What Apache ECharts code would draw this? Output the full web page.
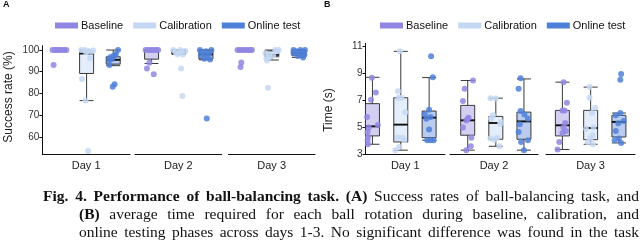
<!DOCTYPE html>
<html><head><meta charset="utf-8">
<script src="https://cdn.jsdelivr.net/npm/echarts@6/dist/echarts.min.js"></script>
<style>html,body{margin:0;padding:0;background:#fff}#c{width:640px;height:240px}</style>
</head><body><div id="c"></div>
<script>
// ---------- data ----------
const days = ['Day 1', 'Day 2', 'Day 3'];
const groups = ['Baseline', 'Calibration', 'Online test'];
const yTicksA = [60, 70, 80, 90, 100];
const yTicksB = [3, 5, 7, 9, 11];

// Panel A – success rate (%) box stats [min, Q1, median, Q3, max] per group
const boxA_day1 = [[100,100,100,100,100],[76.7,89.2,98.4,99.2,100],[92.8,93.5,95.5,96.9,100]];
const boxA_day2 = [[93.8,95.8,100,100,100],[98,98.2,98.8,99.8,100],[95.5,95.9,98,100,100]];
const boxA_day3 = [[100,100,100,100,100],[95.4,96.9,97.8,99.6,100],[96.6,97.4,98.5,100,100]];
// Panel A – individual points and their jitter (category units)
const ptsA_day1 = [
  [100,100,100,100,100,100,100,100,100,93.1],
  [100,100,99.6,99.3,99.8,99,96.2,86.6,76.8,53.5],
  [100,98.2,97.2,96.7,95.9,95.4,93.1,84.2,83.1,97.5]];
const jitA_day1 = [
  [-0.28,-0.2,-0.12,-0.05,0.02,0.1,0.17,0.24,-0.15,-0.24],
  [-0.2,-0.08,0.05,0.18,0.25,-0.02,0.13,-0.17,-0.04,0.06],
  [0.18,0.1,0,-0.11,-0.05,-0.16,-0.14,0.05,-0.02,0.06]];
const ptsA_day2 = [
  [100,100,100,100,100,100,100,94.1,91.5,88.9],
  [100,99.6,99.3,99,98.6,98.1,97.9,91.5,78.8,100],
  [100,100,99.5,98.8,98.3,97.6,96.8,96,95.6,68.5]];
const jitA_day2 = [
  [-0.22,-0.14,-0.06,0.02,0.1,0.18,0.24,-0.08,-0.17,0.08],
  [-0.2,0.24,0.1,-0.12,0.02,-0.05,0.15,0.09,0.13,0.05],
  [-0.22,0.2,0,-0.1,0.12,-0.18,0.05,-0.06,0.15,0.03]];
const ptsA_day3 = [
  [100,100,100,100,100,100,100,100,94.3,92.2],
  [100,100,99.5,98.5,98,97.5,96.6,96.2,95.2,82.6],
  [100,100,100,99.4,99,98.6,98.2,97.8,97.2,96.6]];
const jitA_day3 = [
  [-0.26,-0.18,-0.1,-0.02,0.06,0.14,0.22,0.27,-0.12,-0.15],
  [0.13,0.25,0.2,-0.23,-0.1,0.05,-0.09,-0.2,-0.17,-0.14],
  [-0.2,0.05,0.22,-0.1,0.12,-0.2,0.02,0.2,-0.05,0.15]];

// Panel B – time (s)
const boxB_day1 = [[3.74,4.36,5.07,6.76,8.72],[3.3,3.91,5.2,7.2,10.65],[4.04,4.23,5.72,6.21,8.7]];
const boxB_day2 = [[3.3,4.41,5.52,6.63,8.48],[3.59,4.11,5.32,5.81,7.17],[3.3,4.11,5.44,6.13,8.6]];
const boxB_day3 = [[3.35,4.36,5.15,6.26,8.36],[3.74,4.08,4.95,6.26,7.99],[3.84,4.28,5.4,5.89,6.06]];
const ptsB_day1 = [
  [8.68,7.59,7.05,5.76,5.17,4.98,4.65,4.28,4.04,3.74],
  [10.65,7.69,7.2,7.2,6.13,4.23,4.23,4.04,3.54,3.3],
  [10.28,8.73,6.31,5.96,5.76,5.64,4.83,4.04,4.04,4.04]];
const jitB_day1 = [
  [-0.02,0.12,-0.05,-0.19,0.19,-0.13,-0.17,-0.16,-0.17,-0.16],
  [-0.03,-0.1,-0.08,0.02,0.16,-0.11,0.06,0.12,-0.05,-0.19],
  [0.07,0.13,0,-0.15,0.05,-0.1,0,-0.07,0.16,0.05]];
const ptsB_day2 = [
  [8.48,7.86,6.95,5.72,5.64,5.5,4.98,4.23,3.59,3.3],
  [7.17,7.15,5.89,5.64,5.4,5.24,4.23,4.16,4.08,3.59],
  [8.65,7.86,6.21,5.96,5.64,5.22,4.65,4.04,3.91,3.3]];
const jitB_day2 = [
  [0.19,-0.11,-0.17,0.03,0,-0.05,-0.17,0.13,0.11,-0.05],
  [-0.19,0,-0.1,-0.17,0.19,0.15,0.05,-0.19,-0.05,0.13],
  [-0.12,-0.19,-0.12,0.02,0.14,-0.15,-0.19,0.14,-0.1,0]];
const ptsB_day3 = [
  [8.36,6.83,6.26,6.26,5.32,4.98,4.73,4.58,3.91,3.35],
  [7.99,7.2,6.46,6.06,4.98,4.9,4.41,4.2,3.91,3.74],
  [8.97,8.53,6.06,5.89,5.47,5.3,4.73,4.16,4.04,3.84]];
const jitB_day3 = [
  [0.04,0.16,0,0.08,0.1,0.04,0.12,0,-0.11,-0.17],
  [-0.04,-0.04,0.16,0.05,0.1,-0.16,0.07,0,-0.1,0.08],
  [0.08,0.05,0.05,-0.11,0.17,-0.02,-0.11,0,-0.15,0.08]];

// ---------- styling ----------
const pointColors = ['#8f87e2', '#c4d8f3', '#4f80d8'];
const boxFills = ['rgba(143,135,226,0.4)', 'rgba(196,216,243,0.45)', 'rgba(79,128,216,0.4)'];
const FONT = '"Liberation Sans", Arial, sans-serif';

const panels = [
  { boxes: [boxA_day1, boxA_day2, boxA_day3], pts: [ptsA_day1, ptsA_day2, ptsA_day3], jit: [jitA_day1, jitA_day2, jitA_day3],
    ticks: yTicksA, ymin: 52, ymax: 102, top: 45.7, height: 108.5,
    facets: [{left: 42.3, width: 87.7, min: 0.336, max: 3.63}, {left: 135, width: 86.7, min: 0.39, max: 3.58}, {left: 228.3, width: 86.7, min: 0.4, max: 3.59}] },
  { boxes: [boxB_day1, boxB_day2, boxB_day3], pts: [ptsB_day1, ptsB_day2, ptsB_day3], jit: [jitB_day1, jitB_day2, jitB_day3],
    ticks: yTicksB, ymin: 3, ymax: 11.25, top: 43.3, height: 110.9,
    facets: [{left: 365.5, width: 79.5, min: 0.755, max: 3.56}, {left: 450, width: 88, min: 0.37, max: 3.5}, {left: 546, width: 89, min: 0.42, max: 3.57}] }
];

const grid = [], xAxis = [], yAxis = [], series = [];
panels.forEach((p, pi) => {
  p.facets.forEach((f, di) => {
    const idx = grid.length;
    grid.push({ left: f.left, width: f.width, top: p.top, height: p.height });
    xAxis.push({ gridIndex: idx, type: 'value', min: f.min, max: f.max,
      axisLine: { show: true, onZero: false, lineStyle: { color: '#111', width: 1 } },
      axisTick: { show: false }, axisLabel: { show: false }, splitLine: { show: false },
      name: days[di], nameLocation: 'middle', nameGap: 6,
      nameTextStyle: { fontFamily: FONT, fontSize: 11, color: '#222' } });
    yAxis.push({ gridIndex: idx, type: 'value', min: p.ymin, max: p.ymax, show: di === 0,
      axisLine: { show: true, lineStyle: { color: '#111', width: 1 } },
      axisTick: { show: true, length: 3, customValues: p.ticks, lineStyle: { color: '#111' } },
      axisLabel: { customValues: p.ticks, fontFamily: FONT, fontSize: 10, color: '#333', margin: 3 },
      splitLine: { show: false } });
    const box = p.boxes[di];
    series.push({ type: 'boxplot', xAxisIndex: idx, yAxisIndex: idx, boxWidth: [14, 14], z: 2,
      silent: true,
      data: box.map((s, k) => ({ value: [k + 1].concat(s),
        itemStyle: { color: boxFills[k], borderColor: '#3a3a3a', borderWidth: 1 } })) });
    series.push({ type: 'scatter', xAxisIndex: idx, yAxisIndex: idx, z: 3, silent: true,
      symbol: 'rect', symbolSize: [14, 2], itemStyle: { color: '#000' },
      data: box.map((s, k) => [k + 1, s[2]]) });
    groups.forEach((g, k) => {
      series.push({ name: g, type: 'scatter', xAxisIndex: idx, yAxisIndex: idx, z: 4,
        symbolSize: 6, itemStyle: { color: pointColors[k], opacity: 0.85 },
        data: p.pts[di][k].map((v, j) => [k + 1 + p.jit[di][k][j], v]) });
    });
  });
});

const legendData = groups.map((g, k) => ({ name: g, itemStyle: { color: pointColors[k], opacity: 1 } }));
const legend = [50, 375].map(l => ({ left: l, top: 15, icon: 'rect', itemWidth: 23, itemHeight: 6,
  itemGap: 10, selectedMode: false, data: legendData,
  textStyle: { fontFamily: FONT, fontSize: 11, color: '#111', padding: [0, 0, 0, -2] } }));

// ---------- caption (justified) ----------
const captionLines = [
  { x0: 43, y: 197, words: [['Fig.',1],['4.',1],['Performance',1],['of',1],['ball-balancing',1],['task.',1],['(A)',1],['Success',0],['rates',0],['of',0],['ball-balancing',0],['task,',0],['and',0]] },
  { x0: 79, y: 215, words: [['(B)',1],['average',0],['time',0],['required',0],['for',0],['each',0],['ball',0],['rotation',0],['during',0],['baseline,',0],['calibration,',0],['and',0]] },
  { x0: 79, y: 233, words: [['online',0],['testing',0],['phases',0],['across',0],['days',0],['1-3.',0],['No',0],['significant',0],['difference',0],['was',0],['found',0],['in',0],['the',0],['task',0]] }
];
const CAP_SIZE = 15.5, CAP_X1 = 639;
const cctx = document.createElement('canvas').getContext('2d');
const capFont = b => (b ? 'bold ' : '') + CAP_SIZE + 'px "Liberation Serif", "Times New Roman", serif';
const graphic = [];
captionLines.forEach(line => {
  const widths = line.words.map(([t, b]) => { cctx.font = capFont(b); return cctx.measureText(t).width; });
  const total = widths.reduce((a, b) => a + b, 0);
  const gap = (CAP_X1 - line.x0 - total) / (line.words.length - 1);
  let x = line.x0;
  line.words.forEach(([t, b], i) => {
    graphic.push({ type: 'text', x: x, y: line.y, silent: true,
      style: { text: t, font: capFont(b), fill: '#111', verticalAlign: 'middle' } });
    x += widths[i] + gap;
  });
});
graphic.push({ type: 'text', x: 3, y: 5, style: { text: 'A', font: 'bold 9px ' + FONT, fill: '#111', verticalAlign: 'middle' } });
graphic.push({ type: 'text', x: 324, y: 5, style: { text: 'B', font: 'bold 9px ' + FONT, fill: '#111', verticalAlign: 'middle' } });
graphic.push({ type: 'text', x: 9, y: 97, rotation: Math.PI / 2,
  style: { text: 'Success rate (%)', font: '12px ' + FONT, fill: '#222', align: 'center', verticalAlign: 'middle' } });
graphic.push({ type: 'text', x: 329, y: 110, rotation: Math.PI / 2,
  style: { text: 'Time (s)', font: '12px ' + FONT, fill: '#222', align: 'center', verticalAlign: 'middle' } });

const chart = echarts.init(document.getElementById('c'), null, { renderer: 'canvas' });
chart.setOption({ animation: false, backgroundColor: '#fff', grid, xAxis, yAxis, series, legend, graphic });
</script></body></html>
